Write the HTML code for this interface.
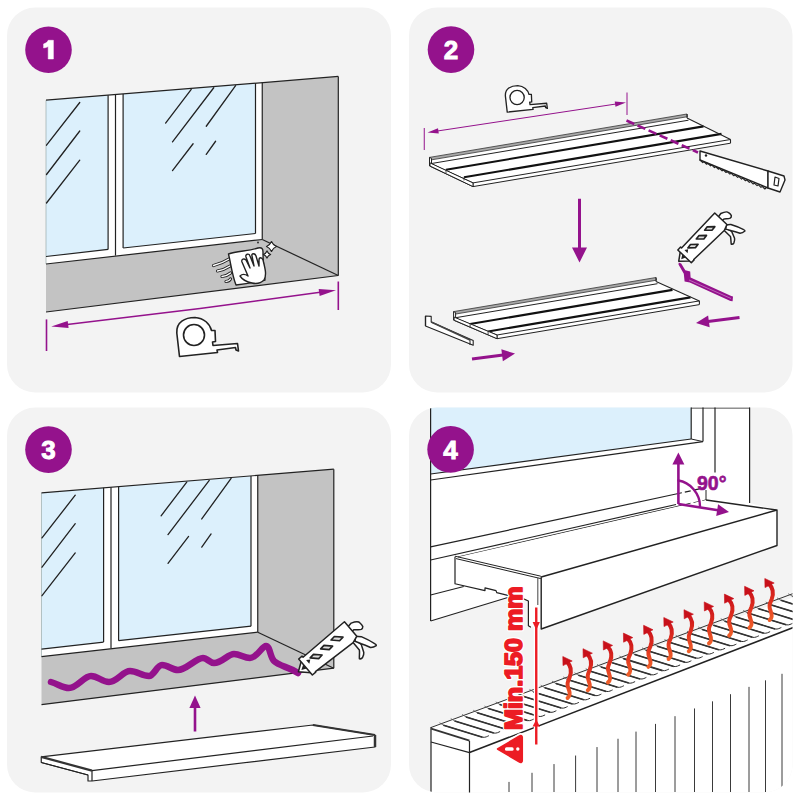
<!DOCTYPE html>
<html><head><meta charset="utf-8"><style>html,body{margin:0;padding:0;background:#fff;width:800px;height:800px;overflow:hidden}svg{display:block}</style></head><body>
<svg width="800" height="800" viewBox="0 0 800 800">
<defs>
<clipPath id="c4"><rect x="409" y="407.5" width="383.5" height="385" rx="28"/></clipPath>
<linearGradient id="hg" x1="0" y1="0" x2="0" y2="1"><stop offset="0" stop-color="#cc141b"/><stop offset="0.5" stop-color="#e0321f"/><stop offset="1" stop-color="#f0602a"/></linearGradient>
</defs>
<rect width="800" height="800" fill="#fff"/>
<rect x="7" y="7.5" width="384" height="385" rx="28" fill="#f3f3f3"/>
<rect x="409" y="7.5" width="383.5" height="385" rx="28" fill="#f3f3f3"/>
<rect x="7" y="407.5" width="384" height="385" rx="28" fill="#f3f3f3"/>
<rect x="409" y="407.5" width="383.5" height="385" rx="28" fill="#f3f3f3"/>
<g transform="translate(0,0)">
<polygon points="46,100.2 262.25,82.64 262.25,239.5 46,264" fill="#fff" stroke="none" stroke-width="1.2" stroke-linejoin="round" />
<polygon points="46,100.2 108.1,95.16 108.1,249.4 46,256.5" fill="#dcf0fc" stroke="none" stroke-width="1.2" stroke-linejoin="round" />
<polygon points="123.1,93.94 255.5,83.19 255.5,233.5 123.1,248" fill="#dcf0fc" stroke="none" stroke-width="1.2" stroke-linejoin="round" />
<polygon points="262.25,82.64 338.3,76.47 338.3,275.5 262.25,239.5" fill="#c3c3c3" stroke="none" stroke-width="1.2" stroke-linejoin="round" />
<polygon points="46,264 262.25,239.5 338.3,275.5 46,312" fill="#c3c3c3" stroke="none" stroke-width="1.2" stroke-linejoin="round" />
<line x1="46" y1="100.2" x2="46" y2="264" stroke="#9aa" stroke-width="0.7" />
<line x1="46" y1="100.2" x2="338.3" y2="76.47" stroke="#222" stroke-width="1.2" />
<line x1="108.1" y1="95.16" x2="108.1" y2="249.4" stroke="#222" stroke-width="1.2" />
<line x1="115.5" y1="94.56" x2="115.5" y2="255.6" stroke="#222" stroke-width="1.2" />
<line x1="123.1" y1="93.94" x2="123.1" y2="248" stroke="#222" stroke-width="1.2" />
<line x1="46" y1="256.5" x2="108.1" y2="249.4" stroke="#222" stroke-width="1.2" />
<line x1="123.1" y1="248" x2="255.5" y2="233.5" stroke="#222" stroke-width="1.2" />
<line x1="255.5" y1="83.19" x2="255.5" y2="233.5" stroke="#222" stroke-width="1.2" />
<line x1="262.25" y1="82.64" x2="262.25" y2="239.5" stroke="#222" stroke-width="1.2" />
<line x1="46" y1="264" x2="262.25" y2="239.5" stroke="#222" stroke-width="1.2" />
<line x1="262.25" y1="239.5" x2="338.3" y2="275.5" stroke="#222" stroke-width="1.2" />
<line x1="46" y1="312" x2="338.3" y2="275.5" stroke="#222" stroke-width="1.2" />
<line x1="338.3" y1="76.47" x2="338.3" y2="275.5" stroke="#222" stroke-width="1.2" />
<line x1="79.75" y1="102.5" x2="46.5" y2="145.2" stroke="#222" stroke-width="1.3" stroke-linecap="round"/>
<line x1="79.75" y1="131" x2="46.5" y2="174.5" stroke="#222" stroke-width="1.3" stroke-linecap="round"/>
<line x1="79.75" y1="160.2" x2="46.5" y2="203" stroke="#222" stroke-width="1.3" stroke-linecap="round"/>
<line x1="191.25" y1="89.4" x2="165.6" y2="123.1" stroke="#222" stroke-width="1.3" stroke-linecap="round"/>
<line x1="213.75" y1="87.75" x2="172.5" y2="141.9" stroke="#222" stroke-width="1.3" stroke-linecap="round"/>
<line x1="235.6" y1="85.6" x2="206.25" y2="126.25" stroke="#222" stroke-width="1.3" stroke-linecap="round"/>
<line x1="193.1" y1="143.75" x2="172.5" y2="170.6" stroke="#222" stroke-width="1.3" stroke-linecap="round"/>
<line x1="215.6" y1="141.25" x2="206.25" y2="154.4" stroke="#222" stroke-width="1.3" stroke-linecap="round"/>
</g>
<path d="M213.5,265.5 Q222.05,263.45 229,259" fill="none" stroke="#222" stroke-width="3.2" stroke-linejoin="round" stroke-linecap="round" />
<path d="M213.5,265.5 Q222.05,263.45 229,259" fill="none" stroke="#fff" stroke-width="1.4" stroke-linejoin="round" stroke-linecap="round" />
<path d="M217.5,271 Q224.55,269.7 230,266" fill="none" stroke="#222" stroke-width="3.2" stroke-linejoin="round" stroke-linecap="round" />
<path d="M217.5,271 Q224.55,269.7 230,266" fill="none" stroke="#fff" stroke-width="1.4" stroke-linejoin="round" stroke-linecap="round" />
<path d="M222,276.5 Q227.05,275.95 230.5,273" fill="none" stroke="#222" stroke-width="3.2" stroke-linejoin="round" stroke-linecap="round" />
<path d="M222,276.5 Q227.05,275.95 230.5,273" fill="none" stroke="#fff" stroke-width="1.4" stroke-linejoin="round" stroke-linecap="round" />
<path d="M226,281.5 Q229.05,281.45 230.5,279" fill="none" stroke="#222" stroke-width="3.2" stroke-linejoin="round" stroke-linecap="round" />
<path d="M226,281.5 Q229.05,281.45 230.5,279" fill="none" stroke="#fff" stroke-width="1.4" stroke-linejoin="round" stroke-linecap="round" />
<path d="M228.5,254 C236,251 250,251 258,248 C262,247 263,249 263,252 C263,262 264,272 265,280 C256,282 244,284 236,285 C232,275 231,264 228.5,254 Z" fill="#fff" stroke="#222" stroke-width="1.4" stroke-linejoin="round" stroke-linecap="round" />
<path d="M252,283 C246,282 242,279 240,276 C242,274 245,274 248,276 L242,262 C241,259 244,258 246,260 L250,268 L246,257 C245,254 249,253 250,256 L254,266 L252,256 C251,253 255,253 256,256 L259,266 L259,260 C259,257 262,257 263,260 C265,268 267,275 264,280 C261,283 256,284 252,283 Z" fill="#fff" stroke="#222" stroke-width="1.4" stroke-linejoin="round" stroke-linecap="round" />
<path d="M271.5,241.5 Q273,245 276.5,246.5 Q273,248 271.5,251.5 Q270,248 266.5,246.5 Q270,245 271.5,241.5 Z" fill="#fff" stroke="#222" stroke-width="1.2" stroke-linejoin="round" stroke-linecap="round" />
<path d="M267,250.9 Q268.08,253.42 270.6,254.5 Q268.08,255.58 267,258.1 Q265.92,255.58 263.4,254.5 Q265.92,253.42 267,250.9 Z" fill="#fff" stroke="#222" stroke-width="1.2" stroke-linejoin="round" stroke-linecap="round" />
<circle cx="258" cy="242.5" r="0.9" fill="#222"/>
<line x1="46.5" y1="319.4" x2="46.5" y2="351" stroke="#94128c" stroke-width="1.6" />
<line x1="338.3" y1="281.5" x2="338.3" y2="310" stroke="#94128c" stroke-width="1.6" />
<line x1="200" y1="308.5" x2="67.13" y2="324.58" stroke="#94128c" stroke-width="1.6" />
<polygon points="51.25,326.5 67.69,320.88 68.56,328.03" fill="#94128c" stroke="none" stroke-width="1.2" stroke-linejoin="round" />
<line x1="200" y1="308.5" x2="320.14" y2="292.33" stroke="#94128c" stroke-width="1.6" />
<polygon points="336,290.2 319.63,296.03 318.67,288.9" fill="#94128c" stroke="none" stroke-width="1.2" stroke-linejoin="round" />
<g transform="">
<path d="M179.5,356.5 L176.8,333 C176,322 185,317.5 195,317.5 C204,318 210,324 211.5,330.5 L215,330.5 L215.5,341.5 L212.5,342 L213,345.5 L237.5,343.5 L238.5,351 L236,350 L235.5,347.5 L217,350 L217.5,352.5 Z" fill="#fff" stroke="#222" stroke-width="1.6" stroke-linejoin="round" stroke-linecap="round" />
<circle cx="194" cy="335" r="10.5" fill="#fff" stroke="#222" stroke-width="1.6"/>
</g>
<circle cx="48.5" cy="49.8" r="23.3" fill="#94128c"/>
<path transform="translate(0,0)" d="M48.2,40.3 L53.4,40.3 L53.4,59 L48.2,59 L48.2,46.6 C46.8,47.3 45.2,47.8 43.6,48 L43.6,43.9 C45.9,43.3 47.4,42 48.2,40.3 Z" fill="#fff" stroke="#fff" stroke-width="0.5"/>
<circle cx="451" cy="49.6" r="23.3" fill="#94128c"/>
<text x="451" y="59.1" text-anchor="middle" font-family="Liberation Sans, sans-serif" font-weight="bold" font-size="26" fill="#fff" stroke="#fff" stroke-width="0.9">2</text>
<g transform="translate(517.1,97.5) scale(0.68) translate(-194,-335)">
<path d="M179.5,356.5 L176.8,333 C176,322 185,317.5 195,317.5 C204,318 210,324 211.5,330.5 L215,330.5 L215.5,341.5 L212.5,342 L213,345.5 L237.5,343.5 L238.5,351 L236,350 L235.5,347.5 L217,350 L217.5,352.5 Z" fill="#fff" stroke="#222" stroke-width="1.95" stroke-linejoin="round" stroke-linecap="round" />
<circle cx="194" cy="335" r="10.5" fill="#fff" stroke="#222" stroke-width="1.95"/>
</g>
<line x1="424.25" y1="128" x2="424.25" y2="150" stroke="#94128c" stroke-width="1.0" />
<line x1="627" y1="92.5" x2="627" y2="115" stroke="#94128c" stroke-width="1.0" />
<line x1="520" y1="118.5" x2="437.39" y2="131" stroke="#94128c" stroke-width="1.0" />
<polygon points="427.5,132.5 437.99,128.28 438.77,133.42" fill="#94128c" stroke="none" stroke-width="1.2" stroke-linejoin="round" />
<line x1="520" y1="118.5" x2="616.11" y2="103.99" stroke="#94128c" stroke-width="1.0" />
<polygon points="626,102.5 615.51,106.71 614.74,101.57" fill="#94128c" stroke="none" stroke-width="1.2" stroke-linejoin="round" />
<polygon points="429.5,157.4 687,114 687,118 730.5,139.5 730.5,143.2 473,186.6 429.5,166" fill="#fff" stroke="none" stroke-width="1.2" stroke-linejoin="round" />
<polygon points="429.5,157.4 687,114 687.5,116.7 430,160.1" fill="#a8a8a8" stroke="#333" stroke-width="0.8" stroke-linejoin="round" />
<line x1="431" y1="163.6" x2="688.5" y2="120.2" stroke="#222" stroke-width="1.0" />
<line x1="446" y1="169.75" x2="703.5" y2="126.35" stroke="#111" stroke-width="2.1" />
<line x1="464" y1="177.25" x2="721.5" y2="133.85" stroke="#111" stroke-width="2.1" />
<line x1="473" y1="182.9" x2="730.5" y2="139.5" stroke="#222" stroke-width="1.0" />
<line x1="473" y1="186.6" x2="730.5" y2="143.2" stroke="#222" stroke-width="1.0" />
<polygon points="429.5,157.4 431.5,158.4 431.5,163.9 473,182.9 473,186.6 429.5,166" fill="#fff" stroke="#222" stroke-width="1.0" stroke-linejoin="round" />
<polygon points="430,162.9 473,182.9 473,186.6 430,166" fill="#fff" stroke="#222" stroke-width="1.0" stroke-linejoin="round" />
<line x1="446" y1="169.45" x2="446" y2="172.95" stroke="#333" stroke-width="0.9" />
<line x1="464" y1="176.95" x2="464" y2="180.45" stroke="#333" stroke-width="0.9" />
<line x1="687" y1="114" x2="687" y2="118" stroke="#222" stroke-width="1.1" />
<line x1="687" y1="118" x2="730.5" y2="139.5" stroke="#222" stroke-width="1.1" />
<line x1="730.5" y1="139.5" x2="730.5" y2="143.2" stroke="#222" stroke-width="1.1" />
<line x1="626.5" y1="120.5" x2="698" y2="152.5" stroke="#94128c" stroke-width="2.6" stroke-dasharray="8.5,3.6"/>
<polygon points="700,151 768,171 768,188 700,160" fill="#fff" stroke="#222" stroke-width="1.4" stroke-linejoin="round" />
<path d="M700,160 L702.74,162.62 L703.88,161.65 L706.62,164.27 L707.76,163.29 L710.51,165.92 L711.65,164.94 L714.39,167.56 L715.53,166.59 L718.27,169.21 L719.41,168.24 L722.15,170.86 L723.29,169.88 L726.04,172.51 L727.18,171.53 L729.92,174.15 L731.06,173.18 L733.8,175.8 L734.94,174.82 L737.68,177.45 L738.82,176.47 L741.56,179.09 L742.71,178.12 L745.45,180.74 L746.59,179.76 L749.33,182.39 L750.47,181.41 L753.21,184.04 L754.35,183.06 L757.09,185.68 L758.24,184.71 L760.98,187.33 L762.12,186.35 L764.86,188.98 L766,188" fill="none" stroke="#222" stroke-width="1.1" stroke-linejoin="round" stroke-linecap="round" />
<polygon points="768,171 784,176 785,180 780,192 777,191 768,188" fill="#fff" stroke="#222" stroke-width="1.4" stroke-linejoin="round" />
<polygon points="775,177 779,178.5 778,186 774,185" fill="#fff" stroke="#222" stroke-width="1.2" stroke-linejoin="round" />
<circle cx="706" cy="155.5" r="1.2" fill="#222"/>
<line x1="579.5" y1="198.75" x2="579.5" y2="248.5" stroke="#94128c" stroke-width="3" />
<polygon points="579.5,262.5 572,247.5 587,247.5" fill="#94128c" stroke="none" stroke-width="1.2" stroke-linejoin="round" />
<polygon points="453.6,311.6 656,277.5 656,281.5 699.4,300.9 699.4,304.6 497,338.7 453.6,320.2" fill="#fff" stroke="none" stroke-width="1.2" stroke-linejoin="round" />
<polygon points="453.6,311.6 656,277.5 656.5,280.2 454.1,314.3" fill="#a8a8a8" stroke="#333" stroke-width="0.8" stroke-linejoin="round" />
<line x1="455.1" y1="317.8" x2="657.5" y2="283.7" stroke="#222" stroke-width="1.0" />
<line x1="470.1" y1="323.95" x2="672.5" y2="289.85" stroke="#111" stroke-width="2.1" />
<line x1="488.1" y1="331.45" x2="690.5" y2="297.35" stroke="#111" stroke-width="2.1" />
<line x1="497" y1="335" x2="699.4" y2="300.9" stroke="#222" stroke-width="1.0" />
<line x1="497" y1="338.7" x2="699.4" y2="304.6" stroke="#222" stroke-width="1.0" />
<polygon points="453.6,311.6 455.6,312.6 455.6,318.1 497,335 497,338.7 453.6,320.2" fill="#fff" stroke="#222" stroke-width="1.0" stroke-linejoin="round" />
<polygon points="454.1,317.1 497,335 497,338.7 454.1,320.2" fill="#fff" stroke="#222" stroke-width="1.0" stroke-linejoin="round" />
<line x1="470.1" y1="323.65" x2="470.1" y2="327.15" stroke="#333" stroke-width="0.9" />
<line x1="488.1" y1="331.15" x2="488.1" y2="334.65" stroke="#333" stroke-width="0.9" />
<line x1="656" y1="277.5" x2="656" y2="281.5" stroke="#222" stroke-width="1.1" />
<line x1="656" y1="281.5" x2="699.4" y2="300.9" stroke="#222" stroke-width="1.1" />
<line x1="699.4" y1="300.9" x2="699.4" y2="304.6" stroke="#222" stroke-width="1.1" />
<polygon points="425.5,316 431.2,316.4 431.2,322 473.2,340.4 473.2,345.25 425.5,326" fill="#fff" stroke="#222" stroke-width="1.1" stroke-linejoin="round" />
<line x1="425.5" y1="316" x2="425.5" y2="326" stroke="#222" stroke-width="1.3" />
<line x1="431.2" y1="322" x2="470" y2="340" stroke="#444" stroke-width="1.8" />
<line x1="470" y1="340" x2="470" y2="345" stroke="#222" stroke-width="1" />
<polygon points="678.75,262.4 681.2,263.5 685.3,270.3 690.2,271.4 690.6,277.4 731.25,296 733,296.4 732.6,301.2 730.4,301 689.8,282.4 684.6,281.6 683.8,273.8 678.5,264.4" fill="#94128c" stroke="none" stroke-width="1.2" stroke-linejoin="round" />
<line x1="689" y1="280" x2="731" y2="298.5" stroke="#d9a0d6" stroke-width="0.6" />
<g transform="translate(678.75,261.2) rotate(-46.5) scale(0.885)">
<path d="M60.6,13 L60.5,23.1 C59,25.5 56.5,27.5 54.8,29.8 C55.5,30.8 57,31.2 58,30.9 C60,30 61.5,29 62.2,27.9 C63.5,25 64.5,22.5 65.6,20.1 L64,13 Z" fill="#fff" stroke="#222" stroke-width="1.694915254237288" stroke-linejoin="round" stroke-linecap="round" />
<path d="M66.5,10.5 C68.5,12 69.6,13 70.6,14.2 C73,19 75,24 76.4,28.6 C76.8,29.6 76.6,30.4 76.2,30.8 C74.5,30.6 72,29.8 70.6,28.5 C69,25 67.5,22 66,19.6 L62.9,13.6 Z" fill="#fff" stroke="#222" stroke-width="1.694915254237288" stroke-linejoin="round" stroke-linecap="round" />
<path d="M67,-2 L71.8,-2.6 C76,-1 78.6,1 78.5,3.1 C78.8,5.5 78.5,7 78.3,7.6 C77.5,8.6 76.3,8.9 75.3,8.7 C73,7.8 71,5 69.4,4.1 L67,4.2 Z" fill="#fff" stroke="#222" stroke-width="1.694915254237288" stroke-linejoin="round" stroke-linecap="round" />
<polygon points="0,0 9.5,-6.5 9,9" fill="#fff" stroke="#222" stroke-width="1.694915254237288" stroke-linejoin="round" />
<polygon points="3.5,0.5 8.5,-2.5 8.5,3" fill="#222" stroke="none" stroke-width="1.2" stroke-linejoin="round" />
<polygon points="8.5,-9.5 13,-9.5 13,-8 67.5,-8 67.5,11 60.6,13.4 13,11 13,11.5 8.5,11.5" fill="#fff" stroke="#222" stroke-width="1.694915254237288" stroke-linejoin="round" />
<polygon points="13.5,-4 17,-1.5 13.5,1" fill="#222" stroke="none" stroke-width="1.2" stroke-linejoin="round" />
<polygon points="18,-2.9 22.8,-3.4 28.9,2.7 24,3.2" fill="#ddd" stroke="#222" stroke-width="1.864406779661017" stroke-linejoin="round" />
<polygon points="31.8,-2.9 36.6,-3.4 42.7,2.7 37.8,3.2" fill="#ddd" stroke="#222" stroke-width="1.864406779661017" stroke-linejoin="round" />
<polygon points="45.5,-2.9 50.3,-3.4 56.4,2.7 51.5,3.2" fill="#ddd" stroke="#222" stroke-width="1.864406779661017" stroke-linejoin="round" />
</g>
<line x1="739.5" y1="317.5" x2="707.91" y2="321.49" stroke="#94128c" stroke-width="3" />
<polygon points="696,323 708.14,315.42 709.65,327.32" fill="#94128c" stroke="none" stroke-width="1.2" stroke-linejoin="round" />
<line x1="472" y1="359" x2="503.09" y2="355.1" stroke="#94128c" stroke-width="3" />
<polygon points="515,353.6 502.85,361.17 501.35,349.27" fill="#94128c" stroke="none" stroke-width="1.2" stroke-linejoin="round" />
<g transform="translate(-4.5,392.7)">
<polygon points="46,100.2 262.25,82.64 262.25,239.5 46,264" fill="#fff" stroke="none" stroke-width="1.2" stroke-linejoin="round" />
<polygon points="46,100.2 108.1,95.16 108.1,249.4 46,256.5" fill="#dcf0fc" stroke="none" stroke-width="1.2" stroke-linejoin="round" />
<polygon points="123.1,93.94 255.5,83.19 255.5,233.5 123.1,248" fill="#dcf0fc" stroke="none" stroke-width="1.2" stroke-linejoin="round" />
<polygon points="262.25,82.64 338.3,76.47 338.3,275.5 262.25,239.5" fill="#c3c3c3" stroke="none" stroke-width="1.2" stroke-linejoin="round" />
<polygon points="46,264 262.25,239.5 338.3,275.5 46,312" fill="#c3c3c3" stroke="none" stroke-width="1.2" stroke-linejoin="round" />
<line x1="46" y1="100.2" x2="46" y2="264" stroke="#9aa" stroke-width="0.7" />
<line x1="46" y1="100.2" x2="338.3" y2="76.47" stroke="#222" stroke-width="1.2" />
<line x1="108.1" y1="95.16" x2="108.1" y2="249.4" stroke="#222" stroke-width="1.2" />
<line x1="115.5" y1="94.56" x2="115.5" y2="255.6" stroke="#222" stroke-width="1.2" />
<line x1="123.1" y1="93.94" x2="123.1" y2="248" stroke="#222" stroke-width="1.2" />
<line x1="46" y1="256.5" x2="108.1" y2="249.4" stroke="#222" stroke-width="1.2" />
<line x1="123.1" y1="248" x2="255.5" y2="233.5" stroke="#222" stroke-width="1.2" />
<line x1="255.5" y1="83.19" x2="255.5" y2="233.5" stroke="#222" stroke-width="1.2" />
<line x1="262.25" y1="82.64" x2="262.25" y2="239.5" stroke="#222" stroke-width="1.2" />
<line x1="46" y1="264" x2="262.25" y2="239.5" stroke="#222" stroke-width="1.2" />
<line x1="262.25" y1="239.5" x2="338.3" y2="275.5" stroke="#222" stroke-width="1.2" />
<line x1="46" y1="312" x2="338.3" y2="275.5" stroke="#222" stroke-width="1.2" />
<line x1="338.3" y1="76.47" x2="338.3" y2="275.5" stroke="#222" stroke-width="1.2" />
<line x1="79.75" y1="102.5" x2="46.5" y2="145.2" stroke="#222" stroke-width="1.3" stroke-linecap="round"/>
<line x1="79.75" y1="131" x2="46.5" y2="174.5" stroke="#222" stroke-width="1.3" stroke-linecap="round"/>
<line x1="79.75" y1="160.2" x2="46.5" y2="203" stroke="#222" stroke-width="1.3" stroke-linecap="round"/>
<line x1="191.25" y1="89.4" x2="165.6" y2="123.1" stroke="#222" stroke-width="1.3" stroke-linecap="round"/>
<line x1="213.75" y1="87.75" x2="172.5" y2="141.9" stroke="#222" stroke-width="1.3" stroke-linecap="round"/>
<line x1="235.6" y1="85.6" x2="206.25" y2="126.25" stroke="#222" stroke-width="1.3" stroke-linecap="round"/>
<line x1="193.1" y1="143.75" x2="172.5" y2="170.6" stroke="#222" stroke-width="1.3" stroke-linecap="round"/>
<line x1="215.6" y1="141.25" x2="206.25" y2="154.4" stroke="#222" stroke-width="1.3" stroke-linecap="round"/>
</g>
<path d="M51,682 C58,684 63,688 69,688 C77,688 84,676 91,676 C98,676 102,682 109,682 C117,682 123,671 130,671 C137,671 142,676 149,676 C154,676 157,665 162,665 C168,665 172,670 178,670 C186,670 196,658 203,658 C207,658 210,663 214,663 C222,663 228,654 234,654 C240,654 244,658 250,658 C257,658 262,646 266,646 C270,646 270,657 274,661 C279,666 289,667 298,673" fill="none" stroke="#94128c" stroke-width="6.5" stroke-linejoin="round" stroke-linecap="round" />
<g transform="translate(298.4,671.8) rotate(-40.6) scale(1.0)">
<path d="M60.6,13 L60.5,23.1 C59,25.5 56.5,27.5 54.8,29.8 C55.5,30.8 57,31.2 58,30.9 C60,30 61.5,29 62.2,27.9 C63.5,25 64.5,22.5 65.6,20.1 L64,13 Z" fill="#fff" stroke="#222" stroke-width="1.5" stroke-linejoin="round" stroke-linecap="round" />
<path d="M66.5,10.5 C68.5,12 69.6,13 70.6,14.2 C73,19 75,24 76.4,28.6 C76.8,29.6 76.6,30.4 76.2,30.8 C74.5,30.6 72,29.8 70.6,28.5 C69,25 67.5,22 66,19.6 L62.9,13.6 Z" fill="#fff" stroke="#222" stroke-width="1.5" stroke-linejoin="round" stroke-linecap="round" />
<path d="M67,-2 L71.8,-2.6 C76,-1 78.6,1 78.5,3.1 C78.8,5.5 78.5,7 78.3,7.6 C77.5,8.6 76.3,8.9 75.3,8.7 C73,7.8 71,5 69.4,4.1 L67,4.2 Z" fill="#fff" stroke="#222" stroke-width="1.5" stroke-linejoin="round" stroke-linecap="round" />
<polygon points="0,0 9.5,-6.5 9,9" fill="#fff" stroke="#222" stroke-width="1.5" stroke-linejoin="round" />
<polygon points="3.5,0.5 8.5,-2.5 8.5,3" fill="#222" stroke="none" stroke-width="1.2" stroke-linejoin="round" />
<polygon points="8.5,-9.5 13,-9.5 13,-8 67.5,-8 67.5,11 60.6,13.4 13,11 13,11.5 8.5,11.5" fill="#fff" stroke="#222" stroke-width="1.5" stroke-linejoin="round" />
<polygon points="13.5,-4 17,-1.5 13.5,1" fill="#222" stroke="none" stroke-width="1.2" stroke-linejoin="round" />
<polygon points="18,-2.9 22.8,-3.4 28.9,2.7 24,3.2" fill="#ddd" stroke="#222" stroke-width="1.6500000000000001" stroke-linejoin="round" />
<polygon points="31.8,-2.9 36.6,-3.4 42.7,2.7 37.8,3.2" fill="#ddd" stroke="#222" stroke-width="1.6500000000000001" stroke-linejoin="round" />
<polygon points="45.5,-2.9 50.3,-3.4 56.4,2.7 51.5,3.2" fill="#ddd" stroke="#222" stroke-width="1.6500000000000001" stroke-linejoin="round" />
</g>
<line x1="195" y1="731.5" x2="195" y2="706.9" stroke="#94128c" stroke-width="2.6" />
<polygon points="195,695.4 200.6,707.9 189.4,707.9" fill="#94128c" stroke="none" stroke-width="1.2" stroke-linejoin="round" />
<polygon points="41.25,756.9 313,725 375,735 375,747 92,781 88,781 88,775 41.25,762.5" fill="#fff" stroke="#222" stroke-width="1.2" stroke-linejoin="round" />
<line x1="92" y1="770.6" x2="373" y2="736" stroke="#222" stroke-width="1.2" />
<line x1="92" y1="770.6" x2="92" y2="781" stroke="#222" stroke-width="1.2" />
<line x1="313" y1="725" x2="375" y2="735" stroke="#333" stroke-width="2.2" />
<line x1="41.25" y1="756.9" x2="92" y2="770.6" stroke="#333" stroke-width="2.2" />
<line x1="41.25" y1="762.5" x2="88" y2="775" stroke="#222" stroke-width="1" />
<line x1="375" y1="735" x2="375" y2="747" stroke="#333" stroke-width="2.5" />
<circle cx="48.5" cy="449.6" r="23.3" fill="#94128c"/>
<text x="48.5" y="459.1" text-anchor="middle" font-family="Liberation Sans, sans-serif" font-weight="bold" font-size="26" fill="#fff" stroke="#fff" stroke-width="0.9">3</text>
<g clip-path="url(#c4)">
<polygon points="430.6,400 749.6,400 749.6,503 777,510 777,545.5 540.8,628.5 528.4,625.7 528.4,601 507.8,597.5 430.6,621" fill="#fff" stroke="none" stroke-width="1.2" stroke-linejoin="round" />
<polygon points="430.6,400 691.2,400 691.2,439 430.6,474" fill="#dcf0fc" stroke="none" stroke-width="1.2" stroke-linejoin="round" />
<line x1="430.6" y1="400" x2="430.6" y2="621" stroke="#222" stroke-width="1.2" />
<line x1="430.6" y1="474" x2="691.2" y2="439" stroke="#222" stroke-width="1.2" />
<line x1="691.2" y1="439" x2="703" y2="441.6" stroke="#222" stroke-width="1" />
<line x1="430.6" y1="480" x2="703" y2="441.6" stroke="#222" stroke-width="1.2" />
<line x1="691.2" y1="400" x2="691.2" y2="439" stroke="#222" stroke-width="1.2" />
<line x1="703" y1="400" x2="703" y2="441.6" stroke="#222" stroke-width="1.2" />
<line x1="691" y1="408" x2="750" y2="408" stroke="#222" stroke-width="1.2" />
<line x1="715" y1="400" x2="715" y2="472.6" stroke="#222" stroke-width="1.2" />
<line x1="749.6" y1="400" x2="749.6" y2="503" stroke="#222" stroke-width="1.2" />
<line x1="430.6" y1="546.9" x2="676" y2="494" stroke="#222" stroke-width="1.2" />
<line x1="676" y1="494" x2="706" y2="487.5" stroke="#222" stroke-width="1.2" stroke-dasharray="6,3"/>
<line x1="430.6" y1="560" x2="676" y2="504.5" stroke="#222" stroke-width="1.2" />
<line x1="458" y1="557" x2="676" y2="506.75" stroke="#222" stroke-width="1.2" />
<line x1="676" y1="506.75" x2="706" y2="500" stroke="#222" stroke-width="1.2" stroke-dasharray="6,3"/>
<line x1="706" y1="490" x2="706" y2="500" stroke="#222" stroke-width="1" />
<line x1="430.6" y1="595" x2="463.75" y2="586.5" stroke="#222" stroke-width="1.2" />
<line x1="430.6" y1="621" x2="507.8" y2="597.5" stroke="#222" stroke-width="1.2" />
<polygon points="458,557 706,500 776.4,510 540.8,577" fill="#fff" stroke="none" stroke-width="1.2" stroke-linejoin="round" />
<line x1="706" y1="500" x2="776.4" y2="510" stroke="#222" stroke-width="1.3" />
<line x1="455" y1="556.2" x2="540.8" y2="576.2" stroke="#222" stroke-width="1.0" />
<line x1="456" y1="558.6" x2="540.8" y2="578.6" stroke="#222" stroke-width="1.0" />
<polygon points="541.2,577 777,510 777,545.5 541.2,629" fill="#fff" stroke="#222" stroke-width="1.4" stroke-linejoin="round" />
<line x1="537.8" y1="577.5" x2="537.8" y2="605" stroke="#555" stroke-width="1.1" />
<path d="M455,557 L455,583.75 L485,590.6 L485,587.9 L496,590.6 L496.8,592.7 L507.8,595.4 L523.6,598.9 L528.4,601 L528.4,625.7 L530.5,627" fill="none" stroke="#222" stroke-width="1.2" stroke-linejoin="round" stroke-linecap="round" />
<polygon points="431,727 800,595 800,800 431,800" fill="#fff" stroke="none" stroke-width="1.2" stroke-linejoin="round" />
<line x1="431" y1="727.5" x2="800" y2="591" stroke="#333" stroke-width="1.0" />
<line x1="469.5" y1="752.6" x2="800" y2="625" stroke="#222" stroke-width="1.6" />
<line x1="431" y1="742" x2="469.5" y2="752.6" stroke="#222" stroke-width="1.2" />
<line x1="431" y1="727" x2="431" y2="795" stroke="#222" stroke-width="1.2" />
<line x1="469.5" y1="741" x2="469.5" y2="795" stroke="#222" stroke-width="1.2" />
<line x1="439.5" y1="722.73" x2="443.5" y2="725.23" stroke="#555" stroke-width="0.8" />
<path d="M443.5,725.23 L482.5,737.23 C485.5,737.73 487.5,736.23 488.5,735.83" fill="none" stroke="#2a2a2a" stroke-width="1.0" stroke-linejoin="round" stroke-linecap="round" />
<line x1="443.5" y1="725.23" x2="482.5" y2="737.23" stroke="#333" stroke-width="1.6" />
<line x1="450.75" y1="718.56" x2="454.75" y2="721.06" stroke="#555" stroke-width="0.8" />
<path d="M454.75,721.06 L493.75,733.06 C496.75,733.56 498.75,732.06 499.75,731.66" fill="none" stroke="#2a2a2a" stroke-width="1.0" stroke-linejoin="round" stroke-linecap="round" />
<line x1="454.75" y1="721.06" x2="493.75" y2="733.06" stroke="#333" stroke-width="1.6" />
<line x1="462" y1="714.4" x2="466" y2="716.9" stroke="#555" stroke-width="0.8" />
<path d="M466,716.9 L505,728.9 C508,729.4 510,727.9 511,727.5" fill="none" stroke="#2a2a2a" stroke-width="1.0" stroke-linejoin="round" stroke-linecap="round" />
<line x1="466" y1="716.9" x2="505" y2="728.9" stroke="#333" stroke-width="1.6" />
<line x1="473.25" y1="710.24" x2="477.25" y2="712.74" stroke="#555" stroke-width="0.8" />
<path d="M477.25,712.74 L516.25,724.74 C519.25,725.24 521.25,723.74 522.25,723.34" fill="none" stroke="#2a2a2a" stroke-width="1.0" stroke-linejoin="round" stroke-linecap="round" />
<line x1="477.25" y1="712.74" x2="516.25" y2="724.74" stroke="#333" stroke-width="1.6" />
<line x1="484.5" y1="706.08" x2="488.5" y2="708.58" stroke="#555" stroke-width="0.8" />
<path d="M488.5,708.58 L527.5,720.58 C530.5,721.08 532.5,719.58 533.5,719.18" fill="none" stroke="#2a2a2a" stroke-width="1.0" stroke-linejoin="round" stroke-linecap="round" />
<line x1="488.5" y1="708.58" x2="527.5" y2="720.58" stroke="#333" stroke-width="1.6" />
<line x1="495.75" y1="701.91" x2="499.75" y2="704.41" stroke="#555" stroke-width="0.8" />
<path d="M499.75,704.41 L538.75,716.41 C541.75,716.91 543.75,715.41 544.75,715.01" fill="none" stroke="#2a2a2a" stroke-width="1.0" stroke-linejoin="round" stroke-linecap="round" />
<line x1="499.75" y1="704.41" x2="538.75" y2="716.41" stroke="#333" stroke-width="1.6" />
<line x1="507" y1="697.75" x2="511" y2="700.25" stroke="#555" stroke-width="0.8" />
<path d="M511,700.25 L550,712.25 C553,712.75 555,711.25 556,710.85" fill="none" stroke="#2a2a2a" stroke-width="1.0" stroke-linejoin="round" stroke-linecap="round" />
<line x1="511" y1="700.25" x2="550" y2="712.25" stroke="#333" stroke-width="1.6" />
<line x1="518.25" y1="693.59" x2="522.25" y2="696.09" stroke="#555" stroke-width="0.8" />
<path d="M522.25,696.09 L561.25,708.09 C564.25,708.59 566.25,707.09 567.25,706.69" fill="none" stroke="#2a2a2a" stroke-width="1.0" stroke-linejoin="round" stroke-linecap="round" />
<line x1="522.25" y1="696.09" x2="561.25" y2="708.09" stroke="#333" stroke-width="1.6" />
<line x1="529.5" y1="689.43" x2="533.5" y2="691.93" stroke="#555" stroke-width="0.8" />
<path d="M533.5,691.93 L572.5,703.93 C575.5,704.43 577.5,702.93 578.5,702.53" fill="none" stroke="#2a2a2a" stroke-width="1.0" stroke-linejoin="round" stroke-linecap="round" />
<line x1="533.5" y1="691.93" x2="572.5" y2="703.93" stroke="#333" stroke-width="1.6" />
<line x1="540.75" y1="685.26" x2="544.75" y2="687.76" stroke="#555" stroke-width="0.8" />
<path d="M544.75,687.76 L583.75,699.76 C586.75,700.26 588.75,698.76 589.75,698.36" fill="none" stroke="#2a2a2a" stroke-width="1.0" stroke-linejoin="round" stroke-linecap="round" />
<line x1="544.75" y1="687.76" x2="583.75" y2="699.76" stroke="#333" stroke-width="1.6" />
<line x1="552" y1="681.1" x2="556" y2="683.6" stroke="#555" stroke-width="0.8" />
<path d="M556,683.6 L595,695.6 C598,696.1 600,694.6 601,694.2" fill="none" stroke="#2a2a2a" stroke-width="1.0" stroke-linejoin="round" stroke-linecap="round" />
<line x1="556" y1="683.6" x2="595" y2="695.6" stroke="#333" stroke-width="1.6" />
<line x1="563.25" y1="676.94" x2="567.25" y2="679.44" stroke="#555" stroke-width="0.8" />
<path d="M567.25,679.44 L606.25,691.44 C609.25,691.94 611.25,690.44 612.25,690.04" fill="none" stroke="#2a2a2a" stroke-width="1.0" stroke-linejoin="round" stroke-linecap="round" />
<line x1="567.25" y1="679.44" x2="606.25" y2="691.44" stroke="#333" stroke-width="1.6" />
<line x1="574.5" y1="672.77" x2="578.5" y2="675.27" stroke="#555" stroke-width="0.8" />
<path d="M578.5,675.27 L617.5,687.27 C620.5,687.77 622.5,686.27 623.5,685.88" fill="none" stroke="#2a2a2a" stroke-width="1.0" stroke-linejoin="round" stroke-linecap="round" />
<line x1="578.5" y1="675.27" x2="617.5" y2="687.27" stroke="#333" stroke-width="1.6" />
<line x1="585.75" y1="668.61" x2="589.75" y2="671.11" stroke="#555" stroke-width="0.8" />
<path d="M589.75,671.11 L628.75,683.11 C631.75,683.61 633.75,682.11 634.75,681.71" fill="none" stroke="#2a2a2a" stroke-width="1.0" stroke-linejoin="round" stroke-linecap="round" />
<line x1="589.75" y1="671.11" x2="628.75" y2="683.11" stroke="#333" stroke-width="1.6" />
<line x1="597" y1="664.45" x2="601" y2="666.95" stroke="#555" stroke-width="0.8" />
<path d="M601,666.95 L640,678.95 C643,679.45 645,677.95 646,677.55" fill="none" stroke="#2a2a2a" stroke-width="1.0" stroke-linejoin="round" stroke-linecap="round" />
<line x1="601" y1="666.95" x2="640" y2="678.95" stroke="#333" stroke-width="1.6" />
<line x1="608.25" y1="660.29" x2="612.25" y2="662.79" stroke="#555" stroke-width="0.8" />
<path d="M612.25,662.79 L651.25,674.79 C654.25,675.29 656.25,673.79 657.25,673.39" fill="none" stroke="#2a2a2a" stroke-width="1.0" stroke-linejoin="round" stroke-linecap="round" />
<line x1="612.25" y1="662.79" x2="651.25" y2="674.79" stroke="#333" stroke-width="1.6" />
<line x1="619.5" y1="656.12" x2="623.5" y2="658.62" stroke="#555" stroke-width="0.8" />
<path d="M623.5,658.62 L662.5,670.62 C665.5,671.12 667.5,669.62 668.5,669.23" fill="none" stroke="#2a2a2a" stroke-width="1.0" stroke-linejoin="round" stroke-linecap="round" />
<line x1="623.5" y1="658.62" x2="662.5" y2="670.62" stroke="#333" stroke-width="1.6" />
<line x1="630.75" y1="651.96" x2="634.75" y2="654.46" stroke="#555" stroke-width="0.8" />
<path d="M634.75,654.46 L673.75,666.46 C676.75,666.96 678.75,665.46 679.75,665.06" fill="none" stroke="#2a2a2a" stroke-width="1.0" stroke-linejoin="round" stroke-linecap="round" />
<line x1="634.75" y1="654.46" x2="673.75" y2="666.46" stroke="#333" stroke-width="1.6" />
<line x1="642" y1="647.8" x2="646" y2="650.3" stroke="#555" stroke-width="0.8" />
<path d="M646,650.3 L685,662.3 C688,662.8 690,661.3 691,660.9" fill="none" stroke="#2a2a2a" stroke-width="1.0" stroke-linejoin="round" stroke-linecap="round" />
<line x1="646" y1="650.3" x2="685" y2="662.3" stroke="#333" stroke-width="1.6" />
<line x1="653.25" y1="643.64" x2="657.25" y2="646.14" stroke="#555" stroke-width="0.8" />
<path d="M657.25,646.14 L696.25,658.14 C699.25,658.64 701.25,657.14 702.25,656.74" fill="none" stroke="#2a2a2a" stroke-width="1.0" stroke-linejoin="round" stroke-linecap="round" />
<line x1="657.25" y1="646.14" x2="696.25" y2="658.14" stroke="#333" stroke-width="1.6" />
<line x1="664.5" y1="639.48" x2="668.5" y2="641.98" stroke="#555" stroke-width="0.8" />
<path d="M668.5,641.98 L707.5,653.98 C710.5,654.48 712.5,652.98 713.5,652.58" fill="none" stroke="#2a2a2a" stroke-width="1.0" stroke-linejoin="round" stroke-linecap="round" />
<line x1="668.5" y1="641.98" x2="707.5" y2="653.98" stroke="#333" stroke-width="1.6" />
<line x1="675.75" y1="635.31" x2="679.75" y2="637.81" stroke="#555" stroke-width="0.8" />
<path d="M679.75,637.81 L718.75,649.81 C721.75,650.31 723.75,648.81 724.75,648.41" fill="none" stroke="#2a2a2a" stroke-width="1.0" stroke-linejoin="round" stroke-linecap="round" />
<line x1="679.75" y1="637.81" x2="718.75" y2="649.81" stroke="#333" stroke-width="1.6" />
<line x1="687" y1="631.15" x2="691" y2="633.65" stroke="#555" stroke-width="0.8" />
<path d="M691,633.65 L730,645.65 C733,646.15 735,644.65 736,644.25" fill="none" stroke="#2a2a2a" stroke-width="1.0" stroke-linejoin="round" stroke-linecap="round" />
<line x1="691" y1="633.65" x2="730" y2="645.65" stroke="#333" stroke-width="1.6" />
<line x1="698.25" y1="626.99" x2="702.25" y2="629.49" stroke="#555" stroke-width="0.8" />
<path d="M702.25,629.49 L741.25,641.49 C744.25,641.99 746.25,640.49 747.25,640.09" fill="none" stroke="#2a2a2a" stroke-width="1.0" stroke-linejoin="round" stroke-linecap="round" />
<line x1="702.25" y1="629.49" x2="741.25" y2="641.49" stroke="#333" stroke-width="1.6" />
<line x1="709.5" y1="622.83" x2="713.5" y2="625.33" stroke="#555" stroke-width="0.8" />
<path d="M713.5,625.33 L752.5,637.33 C755.5,637.83 757.5,636.33 758.5,635.93" fill="none" stroke="#2a2a2a" stroke-width="1.0" stroke-linejoin="round" stroke-linecap="round" />
<line x1="713.5" y1="625.33" x2="752.5" y2="637.33" stroke="#333" stroke-width="1.6" />
<line x1="720.75" y1="618.66" x2="724.75" y2="621.16" stroke="#555" stroke-width="0.8" />
<path d="M724.75,621.16 L763.75,633.16 C766.75,633.66 768.75,632.16 769.75,631.76" fill="none" stroke="#2a2a2a" stroke-width="1.0" stroke-linejoin="round" stroke-linecap="round" />
<line x1="724.75" y1="621.16" x2="763.75" y2="633.16" stroke="#333" stroke-width="1.6" />
<line x1="732" y1="614.5" x2="736" y2="617" stroke="#555" stroke-width="0.8" />
<path d="M736,617 L775,629 C778,629.5 780,628 781,627.6" fill="none" stroke="#2a2a2a" stroke-width="1.0" stroke-linejoin="round" stroke-linecap="round" />
<line x1="736" y1="617" x2="775" y2="629" stroke="#333" stroke-width="1.6" />
<line x1="743.25" y1="610.34" x2="747.25" y2="612.84" stroke="#555" stroke-width="0.8" />
<path d="M747.25,612.84 L786.25,624.84 C789.25,625.34 791.25,623.84 792.25,623.44" fill="none" stroke="#2a2a2a" stroke-width="1.0" stroke-linejoin="round" stroke-linecap="round" />
<line x1="747.25" y1="612.84" x2="786.25" y2="624.84" stroke="#333" stroke-width="1.6" />
<line x1="754.5" y1="606.18" x2="758.5" y2="608.68" stroke="#555" stroke-width="0.8" />
<path d="M758.5,608.68 L797.5,620.68 C800.5,621.18 802.5,619.68 803.5,619.28" fill="none" stroke="#2a2a2a" stroke-width="1.0" stroke-linejoin="round" stroke-linecap="round" />
<line x1="758.5" y1="608.68" x2="797.5" y2="620.68" stroke="#333" stroke-width="1.6" />
<line x1="765.75" y1="602.01" x2="769.75" y2="604.51" stroke="#555" stroke-width="0.8" />
<path d="M769.75,604.51 L808.75,616.51 C811.75,617.01 813.75,615.51 814.75,615.11" fill="none" stroke="#2a2a2a" stroke-width="1.0" stroke-linejoin="round" stroke-linecap="round" />
<line x1="769.75" y1="604.51" x2="808.75" y2="616.51" stroke="#333" stroke-width="1.6" />
<line x1="777" y1="597.85" x2="781" y2="600.35" stroke="#555" stroke-width="0.8" />
<path d="M781,600.35 L820,612.35 C823,612.85 825,611.35 826,610.95" fill="none" stroke="#2a2a2a" stroke-width="1.0" stroke-linejoin="round" stroke-linecap="round" />
<line x1="781" y1="600.35" x2="820" y2="612.35" stroke="#333" stroke-width="1.6" />
<line x1="788.25" y1="593.69" x2="792.25" y2="596.19" stroke="#555" stroke-width="0.8" />
<path d="M792.25,596.19 L831.25,608.19 C834.25,608.69 836.25,607.19 837.25,606.79" fill="none" stroke="#2a2a2a" stroke-width="1.0" stroke-linejoin="round" stroke-linecap="round" />
<line x1="792.25" y1="596.19" x2="831.25" y2="608.19" stroke="#333" stroke-width="1.6" />
<line x1="431.1" y1="728.6" x2="469.5" y2="740.6" stroke="#333" stroke-width="1.8" />
<line x1="509" y1="781.91" x2="509" y2="792" stroke="#3a3a3a" stroke-width="1.0" />
<line x1="532" y1="772.81" x2="532" y2="792" stroke="#3a3a3a" stroke-width="1.0" />
<line x1="554" y1="764.09" x2="554" y2="792" stroke="#3a3a3a" stroke-width="1.0" />
<line x1="575.6" y1="755.54" x2="575.6" y2="792" stroke="#3a3a3a" stroke-width="1.0" />
<line x1="597" y1="747.07" x2="597" y2="792" stroke="#3a3a3a" stroke-width="1.0" />
<line x1="618" y1="738.75" x2="618" y2="792" stroke="#3a3a3a" stroke-width="1.0" />
<line x1="636" y1="731.62" x2="636" y2="792" stroke="#3a3a3a" stroke-width="1.0" />
<line x1="655.5" y1="723.9" x2="655.5" y2="792" stroke="#3a3a3a" stroke-width="1.0" />
<line x1="675" y1="716.18" x2="675" y2="792" stroke="#3a3a3a" stroke-width="1.0" />
<line x1="694.5" y1="708.46" x2="694.5" y2="792" stroke="#3a3a3a" stroke-width="1.0" />
<line x1="712.5" y1="701.33" x2="712.5" y2="792" stroke="#3a3a3a" stroke-width="1.0" />
<line x1="730.5" y1="694.2" x2="730.5" y2="792" stroke="#3a3a3a" stroke-width="1.0" />
<line x1="749" y1="686.87" x2="749" y2="792" stroke="#3a3a3a" stroke-width="1.0" />
<line x1="765.5" y1="680.34" x2="765.5" y2="792" stroke="#3a3a3a" stroke-width="1.0" />
<line x1="782" y1="673.81" x2="782" y2="792" stroke="#3a3a3a" stroke-width="1.0" />
</g>
<g transform="translate(563.6,657)">
<path d="M3.5,5 C7.5,9 8.5,14 6,20.5 C4,25 3,27 5,32 C7,37 6.5,39 4,41" fill="none" stroke="url(#hg)" stroke-width="4.0" stroke-linejoin="round" stroke-linecap="round" />
<polygon points="-0.8,-0.5 8.6,4 -0.6,8.6" fill="#c8101a" stroke="#c8101a" stroke-width="0.6" stroke-linejoin="round" />
</g>
<g transform="translate(583.8,649.2)">
<path d="M3.5,5 C7.5,9 8.5,14 6,20.5 C4,25 3,27 5,32 C7,37 6.5,39 4,41" fill="none" stroke="url(#hg)" stroke-width="4.0" stroke-linejoin="round" stroke-linecap="round" />
<polygon points="-0.8,-0.5 8.6,4 -0.6,8.6" fill="#c8101a" stroke="#c8101a" stroke-width="0.6" stroke-linejoin="round" />
</g>
<g transform="translate(604,641.4)">
<path d="M3.5,5 C7.5,9 8.5,14 6,20.5 C4,25 3,27 5,32 C7,37 6.5,39 4,41" fill="none" stroke="url(#hg)" stroke-width="4.0" stroke-linejoin="round" stroke-linecap="round" />
<polygon points="-0.8,-0.5 8.6,4 -0.6,8.6" fill="#c8101a" stroke="#c8101a" stroke-width="0.6" stroke-linejoin="round" />
</g>
<g transform="translate(624.2,633.6)">
<path d="M3.5,5 C7.5,9 8.5,14 6,20.5 C4,25 3,27 5,32 C7,37 6.5,39 4,41" fill="none" stroke="url(#hg)" stroke-width="4.0" stroke-linejoin="round" stroke-linecap="round" />
<polygon points="-0.8,-0.5 8.6,4 -0.6,8.6" fill="#c8101a" stroke="#c8101a" stroke-width="0.6" stroke-linejoin="round" />
</g>
<g transform="translate(644.4,625.8)">
<path d="M3.5,5 C7.5,9 8.5,14 6,20.5 C4,25 3,27 5,32 C7,37 6.5,39 4,41" fill="none" stroke="url(#hg)" stroke-width="4.0" stroke-linejoin="round" stroke-linecap="round" />
<polygon points="-0.8,-0.5 8.6,4 -0.6,8.6" fill="#c8101a" stroke="#c8101a" stroke-width="0.6" stroke-linejoin="round" />
</g>
<g transform="translate(664.6,618)">
<path d="M3.5,5 C7.5,9 8.5,14 6,20.5 C4,25 3,27 5,32 C7,37 6.5,39 4,41" fill="none" stroke="url(#hg)" stroke-width="4.0" stroke-linejoin="round" stroke-linecap="round" />
<polygon points="-0.8,-0.5 8.6,4 -0.6,8.6" fill="#c8101a" stroke="#c8101a" stroke-width="0.6" stroke-linejoin="round" />
</g>
<g transform="translate(684.8,610.2)">
<path d="M3.5,5 C7.5,9 8.5,14 6,20.5 C4,25 3,27 5,32 C7,37 6.5,39 4,41" fill="none" stroke="url(#hg)" stroke-width="4.0" stroke-linejoin="round" stroke-linecap="round" />
<polygon points="-0.8,-0.5 8.6,4 -0.6,8.6" fill="#c8101a" stroke="#c8101a" stroke-width="0.6" stroke-linejoin="round" />
</g>
<g transform="translate(705,602.4)">
<path d="M3.5,5 C7.5,9 8.5,14 6,20.5 C4,25 3,27 5,32 C7,37 6.5,39 4,41" fill="none" stroke="url(#hg)" stroke-width="4.0" stroke-linejoin="round" stroke-linecap="round" />
<polygon points="-0.8,-0.5 8.6,4 -0.6,8.6" fill="#c8101a" stroke="#c8101a" stroke-width="0.6" stroke-linejoin="round" />
</g>
<g transform="translate(725.2,594.6)">
<path d="M3.5,5 C7.5,9 8.5,14 6,20.5 C4,25 3,27 5,32 C7,37 6.5,39 4,41" fill="none" stroke="url(#hg)" stroke-width="4.0" stroke-linejoin="round" stroke-linecap="round" />
<polygon points="-0.8,-0.5 8.6,4 -0.6,8.6" fill="#c8101a" stroke="#c8101a" stroke-width="0.6" stroke-linejoin="round" />
</g>
<g transform="translate(745.4,586.8)">
<path d="M3.5,5 C7.5,9 8.5,14 6,20.5 C4,25 3,27 5,32 C7,37 6.5,39 4,41" fill="none" stroke="url(#hg)" stroke-width="4.0" stroke-linejoin="round" stroke-linecap="round" />
<polygon points="-0.8,-0.5 8.6,4 -0.6,8.6" fill="#c8101a" stroke="#c8101a" stroke-width="0.6" stroke-linejoin="round" />
</g>
<g transform="translate(765.6,579)">
<path d="M3.5,5 C7.5,9 8.5,14 6,20.5 C4,25 3,27 5,32 C7,37 6.5,39 4,41" fill="none" stroke="url(#hg)" stroke-width="4.0" stroke-linejoin="round" stroke-linecap="round" />
<polygon points="-0.8,-0.5 8.6,4 -0.6,8.6" fill="#c8101a" stroke="#c8101a" stroke-width="0.6" stroke-linejoin="round" />
</g>
<text transform="translate(522,730) rotate(-90)" font-family="Liberation Sans, sans-serif" font-weight="bold" font-size="23" textLength="143.5" lengthAdjust="spacingAndGlyphs" fill="#fff" stroke="#fff" stroke-width="4" stroke-linejoin="round">Min.150 mm</text>
<line x1="536.25" y1="607.5" x2="536.25" y2="744.5" stroke="#fff" stroke-width="5" stroke-linecap="round"/>
<path d="M497.5,749 L519.5,735.8 C521,735 522.3,735.8 522.3,737.3 L522.3,760.8 C522.3,762.3 521,763 519.5,762.2 Z" fill="#fff" stroke="#fff" stroke-width="5" stroke-linejoin="round" stroke-linecap="round" />
<text transform="translate(522,730) rotate(-90)" font-family="Liberation Sans, sans-serif" font-weight="bold" font-size="23" textLength="143.5" lengthAdjust="spacingAndGlyphs" fill="#ec1c24" stroke="#ec1c24" stroke-width="1.7" stroke-linejoin="round">Min.150 mm</text>
<line x1="536.25" y1="607.5" x2="536.25" y2="744.5" stroke="#ec1c24" stroke-width="2.4" />
<polygon points="532.6,622 539.9,622 536.25,630" fill="#ec1c24" stroke="none" stroke-width="1.2" stroke-linejoin="round" />
<polygon points="532.6,726.5 539.9,726.5 536.25,719.5" fill="#ec1c24" stroke="none" stroke-width="1.2" stroke-linejoin="round" />
<path d="M497.5,749 L519.5,735.8 C521,735 522.3,735.8 522.3,737.3 L522.3,760.8 C522.3,762.3 521,763 519.5,762.2 Z" fill="#ec1c24" stroke="#ec1c24" stroke-width="1.5" stroke-linejoin="round" stroke-linecap="round" />
<rect x="505" y="747.3" width="8.6" height="3.4" rx="1.5" fill="#fff"/><circle cx="517.8" cy="749" r="1.7" fill="#fff"/>
<line x1="678.4" y1="504" x2="678.4" y2="463.5" stroke="#94128c" stroke-width="2.6" />
<polygon points="678.4,452.5 684.4,464.5 672.4,464.5" fill="#94128c" stroke="none" stroke-width="1.2" stroke-linejoin="round" />
<line x1="678.4" y1="504" x2="718.13" y2="510.28" stroke="#94128c" stroke-width="2.6" />
<polygon points="729,512 716.21,516.05 718.08,504.2" fill="#94128c" stroke="none" stroke-width="1.2" stroke-linejoin="round" />
<path d="M678.4,480.5 C690,482 700,494 700,506" fill="none" stroke="#94128c" stroke-width="2.4" stroke-linejoin="round" stroke-linecap="round" />
<text x="697" y="490" font-family="Liberation Sans, sans-serif" font-weight="bold" font-size="19.5" fill="#94128c" stroke="#94128c" stroke-width="0.6">90°</text>
<circle cx="450.6" cy="449.4" r="23.3" fill="#94128c"/>
<text x="450.6" y="458.9" text-anchor="middle" font-family="Liberation Sans, sans-serif" font-weight="bold" font-size="26" fill="#fff" stroke="#fff" stroke-width="0.9">4</text>
</svg>
</body></html>
